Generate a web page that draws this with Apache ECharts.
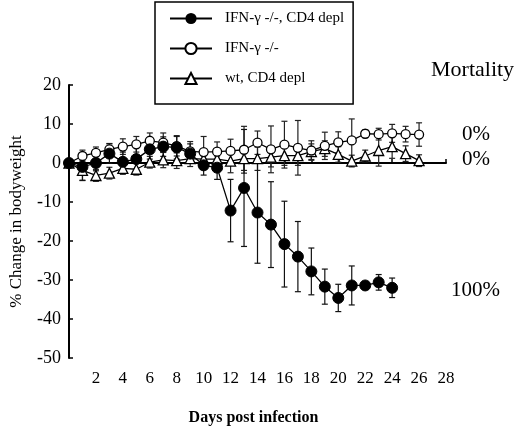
<!DOCTYPE html>
<html>
<head>
<meta charset="utf-8">
<script src="https://cdn.jsdelivr.net/npm/echarts@6/dist/echarts.min.js"></script>
<style>
  html, body { margin: 0; padding: 0; background: #fff; }
  #main { width: 524px; height: 431px; }
</style>
</head>
<body>
<div id="main"></div>
<script>
// days post infection
var daysKO = [0,1,2,3,4,5,6,7,8,9,10,11,12,13,14,15,16,17,18,19,20,21,22,23,24]
var daysAll = [0,1,2,3,4,5,6,7,8,9,10,11,12,13,14,15,16,17,18,19,20,21,22,23,24,25,26]

// IFN-g -/-, CD4 depl (filled circles)
var koDeplMean = [0,-1,0,2.4,0.3,1,3.5,4.2,4,2.4,-0.6,-1.2,-12.2,-6.4,-12.7,-15.8,-20.8,-24,-27.8,-31.7,-34.6,-31.4,-31.4,-30.6,-32]
var koDeplErr = [0,3.5,2,2.5,2.5,3,2.5,2.5,3,2.5,2.5,3,8,15,13,11,11,9,6,4.5,3.5,5,0.5,2,2.5]

// IFN-g -/- (open circles)
var koMean = [0,1.8,2.6,3.5,4.2,4.8,5.7,5.2,4.3,3,2.8,2.9,3.1,3.4,5.2,3.5,4.7,3.9,3.2,4.4,5.3,5.8,7.5,7.4,7.6,7.4,7.3]
var koErr = [0,1.5,1.5,1.5,2,2,2,2.5,2.5,2.5,4,2.5,3,6,3,6,6,7,2.5,3.5,2.7,5.5,1,1.5,2.3,2,3]

// wt, CD4 depl (open triangles)
var wtDeplMean = [0,-1.9,-3.2,-2.6,-1.4,-1.6,0.2,0.8,0.6,1.1,1,1,0.5,1.1,1.1,1.5,1.9,1.9,2.9,3.7,2.2,0.5,1.8,3.2,4.2,2.4,0.6]
var wtDeplErr = [0,2.5,1.5,1.5,1.5,1.5,1.5,2,2,2,2,2,3,3,3,2.5,2.5,2.5,2,2,2,1.5,1.5,4,3,2,1.5]

var xTicks = [0,2,4,6,8,10,12,14,16,18,20,22,24,26,28]

var serif = '"Liberation Serif", "DejaVu Serif", serif'

function pairs(xs, ys) {
  return xs.map(function (x, i) { return [x, ys[i]] })
}
function triples(xs, ys, es) {
  return xs.map(function (x, i) { return [x, ys[i], es[i]] })
}

function errorBars(name, data, color) {
  return {
    type: 'custom',
    name: name + ' err',
    data: data,
    z: 1,
    encode: { x: 0, y: 1 },
    renderItem: function (params, api) {
      var x = api.value(0), m = api.value(1), e = api.value(2)
      if (!e) return null
      var top = api.coord([x, m + e])
      var bot = api.coord([x, m - e])
      var w = 3
      var st = { stroke: color, lineWidth: 1.2 }
      return {
        type: 'group',
        children: [
          { type: 'line', shape: { x1: top[0], y1: top[1], x2: bot[0], y2: bot[1] }, style: st },
          { type: 'line', shape: { x1: top[0] - w, y1: top[1], x2: top[0] + w, y2: top[1] }, style: st },
          { type: 'line', shape: { x1: bot[0] - w, y1: bot[1], x2: bot[0] + w, y2: bot[1] }, style: st }
        ]
      }
    }
  }
}

var myChart = echarts.init(document.getElementById('main'))

var option = {
  animation: false,
  backgroundColor: '#fff',
  grid: { left: 63, right: 78, top: 85, bottom: 68, containLabel: false },
  legend: {
    data: ['IFN-γ -/-, CD4 depl', 'IFN-γ -/-', 'wt, CD4 depl'],
    orient: 'vertical',
    left: 155,
    top: 2,
    itemWidth: 42,
    itemHeight: 14,
    itemGap: 15,
    padding: [9, 9, 18, 14],
    borderColor: '#000',
    borderWidth: 1.5,
    backgroundColor: '#fff',
    textStyle: { fontFamily: serif, fontSize: 15, color: '#000', padding: [0, 0, 0, 8] }
  },
  xAxis: {
    type: 'value',
    min: 0,
    max: 28,
    interval: 2,
    name: 'Days post infection',
    nameLocation: 'middle',
    nameGap: 52,
    nameTextStyle: { fontFamily: serif, fontSize: 16, fontWeight: 'bold', color: '#000', padding: [0, 8, 0, 0] },
    axisLine: { lineStyle: { color: '#000', width: 2 } },
    axisTick: { inside: true, length: 4, lineStyle: { color: '#000', width: 1.5 } },
    axisLabel: {
      fontFamily: serif, fontSize: 17, color: '#000', margin: 12,
      formatter: function (v) { return v === xTicks[0] ? '' : String(v) }
    },
    splitLine: { show: false }
  },
  yAxis: {
    type: 'value',
    min: -50,
    max: 20,
    interval: 10,
    name: '% Change in bodyweight',
    nameLocation: 'middle',
    nameGap: 44,
    nameTextStyle: { fontFamily: serif, fontSize: 17, color: '#000' },
    axisLine: { show: true, lineStyle: { color: '#000', width: 2 } },
    axisTick: { show: true, inside: true, length: 4, lineStyle: { color: '#000', width: 1.5 } },
    axisLabel: { fontFamily: serif, fontSize: 18, color: '#000', margin: 8 },
    splitLine: { show: false }
  },
  series: [
    errorBars('wt', triples(daysAll, wtDeplMean, wtDeplErr), '#222'),
    errorBars('ko', triples(daysAll, koMean, koErr), '#222'),
    errorBars('kodepl', triples(daysKO, koDeplMean, koDeplErr), '#111'),
    {
      type: 'line',
      name: 'wt, CD4 depl',
      data: pairs(daysAll, wtDeplMean),
      symbol: 'triangle',
      symbolSize: 10,
      z: 3,
      itemStyle: { color: '#fff', borderColor: '#000', borderWidth: 1.3 },
      lineStyle: { color: '#000', width: 1.3 }
    },
    {
      type: 'line',
      name: 'IFN-γ -/-',
      data: pairs(daysAll, koMean),
      symbol: 'circle',
      symbolSize: 9,
      z: 4,
      itemStyle: { color: '#fff', borderColor: '#000', borderWidth: 1.3 },
      lineStyle: { color: '#000', width: 1.3 }
    },
    {
      type: 'line',
      name: 'IFN-γ -/-, CD4 depl',
      data: pairs(daysKO, koDeplMean),
      symbol: 'circle',
      symbolSize: 11,
      z: 5,
      itemStyle: { color: '#000', borderColor: '#000' },
      lineStyle: { color: '#000', width: 1.3 }
    }
  ],
  graphic: [
    { type: 'text', left: 431, top: 59, style: { text: 'Mortality', font: '22px ' + serif, fill: '#000' } },
    { type: 'text', left: 462, top: 124, style: { text: '0%', font: '21px ' + serif, fill: '#000' } },
    { type: 'text', left: 462, top: 149, style: { text: '0%', font: '21px ' + serif, fill: '#000' } },
    { type: 'text', left: 451, top: 280, style: { text: '100%', font: '21px ' + serif, fill: '#000' } }
  ]
}

myChart.setOption(option)
</script>
</body>
</html>
